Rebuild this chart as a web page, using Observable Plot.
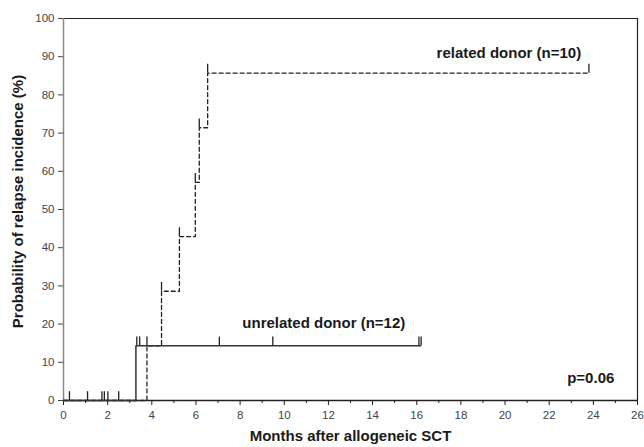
<!DOCTYPE html>
<html><head><meta charset="utf-8">
<script src="https://cdn.jsdelivr.net/npm/d3@7"></script>
<script src="https://cdn.jsdelivr.net/npm/@observablehq/plot@0.6"></script>
<style>body{margin:0;background:#fff;font-family:"Liberation Sans",Arial,sans-serif}</style>
</head><body><div id="chart"></div>
<script>
// Related donor (dashed) step curve
const relatedTimes = [0, 3.78, 4.44, 5.25, 5.97, 6.15, 6.53, 23.8];
const relatedValues = [0, 14.3, 28.6, 42.9, 57.1, 71.4, 85.7, 85.7];
// Unrelated donor (solid) step curve
const unrelatedTimes = [0, 3.28, 16.18];
const unrelatedValues = [0, 14.3, 14.3];
// Censor marks
const censorTimes = [0.27, 1.09, 1.74, 1.85, 2.01, 2.5, 3.32, 3.45, 3.78, 7.06, 9.48, 16.1, 16.2, 4.44, 5.25, 5.97, 6.15, 6.53, 23.8];
const censorLevels = [0, 0, 0, 0, 0, 0, 14.3, 14.3, 14.3, 14.3, 14.3, 14.3, 14.3, 28.6, 42.9, 57.1, 71.4, 85.7, 85.7];
const censorHeight = 2.3;
const xMajorTicks = d3.range(0, 27, 2);
const xMinorTicks = d3.range(1, 26, 2);
const yTicks = d3.range(0, 101, 10);
const relatedLabel = "related donor (n=10)";
const unrelatedLabel = "unrelated donor (n=12)";
const pLabel = "p=0.06";
const xTitle = "Months after allogeneic SCT";
const yTitle = "Probability of relapse incidence (%)";

const related = relatedTimes.map((t, i) => ({t, v: relatedValues[i]}));
const unrelated = unrelatedTimes.map((t, i) => ({t, v: unrelatedValues[i]}));
const censors = censorTimes.map((t, i) => ({t, v: censorLevels[i]}));

const bold = {fontSize: 15, fontWeight: "bold", fill: "#1a1a1a"};

const plot = Plot.plot({
  width: 644, height: 447,
  marginLeft: 63, marginRight: 7, marginTop: 18, marginBottom: 47,
  style: {fontFamily: "'Liberation Sans', Arial, sans-serif", fontSize: "11px", color: "#333", background: "#fff"},
  x: {domain: [0, 26]},
  y: {domain: [0, 100]},
  marks: [
    Plot.axisX({ticks: xMajorTicks, tickSize: 5, tickPadding: 5, fontSize: 11.5, label: null, stroke: "#222", fill: "#444"}),
    Plot.axisX({ticks: xMinorTicks, tickSize: 3, text: null, label: null, stroke: "#222"}),
    Plot.axisY({ticks: yTicks, tickSize: 5, tickPadding: 4, fontSize: 11.5, label: null, stroke: "#444", fill: "#444"}),
    Plot.ruleY([100], {stroke: "#222", strokeWidth: 1.2}),
    Plot.ruleX([26], {stroke: "#222", strokeWidth: 1.2}),
    Plot.ruleX([0], {stroke: "#888", strokeWidth: 1.5}),
    Plot.ruleY([0], {stroke: "#222", strokeWidth: 1.5}),
    Plot.line(related, {x: "t", y: "v", curve: "step-after", stroke: "#222", strokeWidth: 1.3, strokeDasharray: "4,3"}),
    Plot.line(unrelated, {x: "t", y: "v", curve: "step-after", stroke: "#333", strokeWidth: 1.5}),
    Plot.ruleX(censors, {x: "t", y1: "v", y2: d => d.v + censorHeight, stroke: "#222", strokeWidth: 1.3}),
    Plot.text([relatedLabel], {x: 23.45, y: 90.8, textAnchor: "end", ...bold}),
    Plot.text([unrelatedLabel], {x: 8.1, y: 20.2, textAnchor: "start", ...bold}),
    Plot.text([pLabel], {x: 24.95, y: 5.8, textAnchor: "end", ...bold}),
    Plot.text([xTitle], {frameAnchor: "bottom", dy: 40, ...bold}),
    Plot.text([yTitle], {frameAnchor: "left", dx: -45, dy: -8, rotate: -90, textAnchor: "middle", ...bold})
  ]
});
document.getElementById("chart").append(plot);
</script></body></html>
